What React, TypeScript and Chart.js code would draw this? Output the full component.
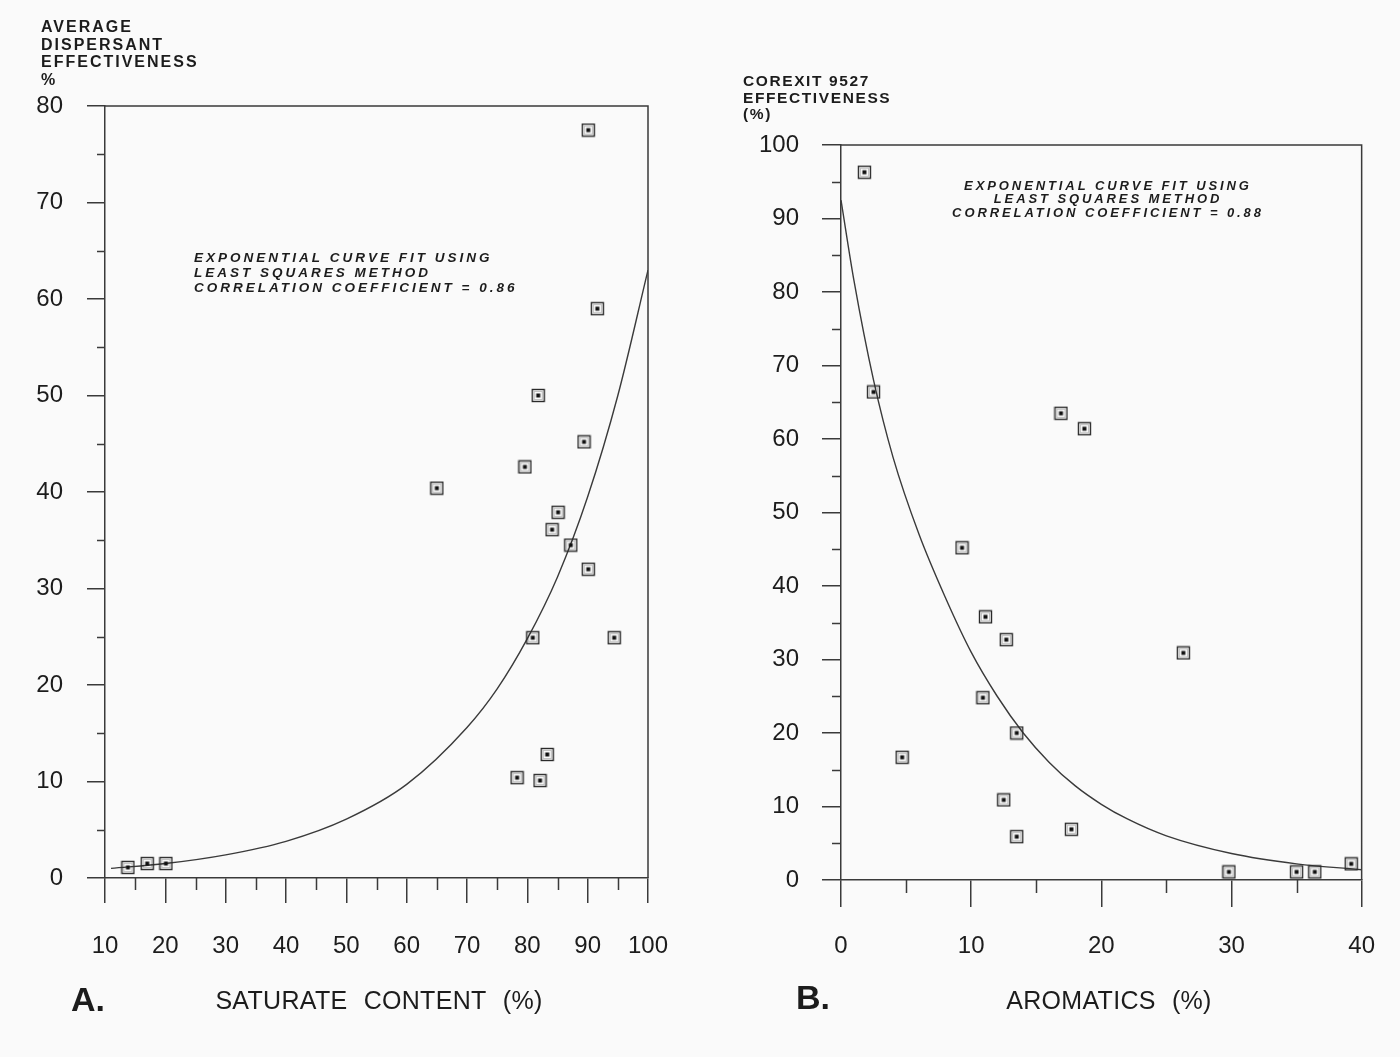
import { useEffect, useRef } from 'react';
import { Chart, registerables } from 'chart.js';

Chart.register(...registerables);

// ---- Panel A: saturate content vs. average dispersant effectiveness ----
const saturateContent = [90.1, 91.6, 81.8, 89.4, 79.6, 65.0, 85.1, 84.1, 87.2, 90.1, 80.9, 94.4, 83.3, 78.3, 82.1, 13.8, 17.0, 20.1];
const dispersantEffectiveness = [77.5, 59.0, 50.0, 45.2, 42.6, 40.4, 37.9, 36.1, 34.5, 32.0, 24.9, 24.9, 12.8, 10.4, 10.1, 1.1, 1.5, 1.5];
const saturateFitX = [11, 20, 30, 40, 50, 60, 70, 75, 80, 85, 90, 95, 100];
const saturateFitY = [1.0, 1.5, 2.4, 3.8, 6.1, 9.7, 15.6, 19.6, 24.8, 31.2, 39.5, 50.0, 63.0];
const saturateMinorX = [15, 25, 35, 45, 55, 65, 75, 85, 95];
const saturateMinorY = [5, 15, 25, 35, 45, 55, 65, 75];

// ---- Panel B: aromatics vs. Corexit 9527 effectiveness ----
const aromaticsContent = [1.8, 2.5, 9.3, 11.1, 12.7, 16.9, 18.7, 26.3, 10.9, 13.5, 4.7, 12.5, 13.5, 17.7, 29.8, 35.0, 36.4, 39.2];
const corexitEffectiveness = [96.3, 66.4, 45.2, 35.8, 32.7, 63.5, 61.4, 30.9, 24.8, 20.0, 16.7, 10.9, 5.9, 6.9, 1.1, 1.1, 1.1, 2.2];
const aromaticsFitX = [0, 1, 2.5, 4, 6, 8, 10, 12, 14, 16, 18, 20, 22, 25, 30, 35, 40];
const aromaticsFitY = [92.5, 81.5, 68, 57.5, 47, 38.5, 31, 25, 20, 16, 12.8, 10.3, 8.3, 6.0, 3.6, 2.2, 1.4];
const aromaticsMinorX = [5, 15, 25, 35];
const aromaticsMinorY = [5, 15, 25, 35, 45, 55, 65, 75, 85, 95];

const FONT = '"Liberation Sans", Arial, Helvetica, sans-serif';
const INK = '#1c1c1c';
const LINE = '#3a3a3a';

function makeMarker(): HTMLCanvasElement {
  const c = document.createElement('canvas');
  c.width = 15;
  c.height = 15;
  const g = c.getContext('2d')!;
  g.strokeStyle = '#2a2a2a';
  g.lineWidth = 1.4;
  g.strokeRect(1.5, 1.5, 12, 12);
  g.strokeStyle = 'rgba(0,0,0,0.22)';
  g.lineWidth = 1;
  g.strokeRect(3.5, 3.5, 8, 8);
  g.fillStyle = '#111';
  g.fillRect(5.5, 5.5, 4, 4);
  return c;
}

// Short minor ticks plus the top and right sides of the frame
const frameTicks = {
  id: 'frameTicks',
  afterDatasetsDraw(chart: any, _args: any, o: any) {
    const { ctx, chartArea } = chart;
    const xs = chart.scales.x;
    const ys = chart.scales.y;
    ctx.save();
    ctx.strokeStyle = LINE;
    ctx.lineWidth = 1.5;
    ctx.beginPath();
    for (const v of o.minorX) {
      const px = Math.round(xs.getPixelForValue(v)) + 0.5;
      ctx.moveTo(px, chartArea.bottom);
      ctx.lineTo(px, chartArea.bottom + o.minorXLen);
    }
    for (const v of o.minorY) {
      const py = Math.round(ys.getPixelForValue(v)) + 0.5;
      ctx.moveTo(chartArea.left, py);
      ctx.lineTo(chartArea.left - o.minorYLen, py);
    }
    ctx.moveTo(chartArea.left, chartArea.top);
    ctx.lineTo(chartArea.right, chartArea.top);
    ctx.lineTo(chartArea.right, chartArea.bottom);
    ctx.stroke();
    ctx.restore();
  },
};

// Axis captions, fit note and panel letter
const panelText = {
  id: 'panelText',
  afterDraw(chart: any, _args: any, o: any) {
    const { ctx } = chart;
    ctx.save();
    ctx.fillStyle = INK;
    ctx.textBaseline = 'middle';

    ctx.font = `bold ${o.capSize}px ${FONT}`;
    ctx.letterSpacing = `${o.capSpacing}px`;
    ctx.textAlign = 'left';
    o.caption.forEach((line: string, i: number) => ctx.fillText(line, o.capX, o.capY + i * o.capDy));

    ctx.font = `italic bold ${o.noteSize}px ${FONT}`;
    ctx.letterSpacing = `${o.noteSpacing}px`;
    ctx.textAlign = o.noteAlign;
    o.note.forEach((line: string, i: number) => ctx.fillText(line, o.noteX, o.noteY + i * o.noteDy));

    ctx.letterSpacing = '0.3px';
    ctx.wordSpacing = '9px';
    ctx.font = `25px ${FONT}`;
    ctx.textAlign = 'center';
    ctx.fillText(o.xTitle, o.xTitleX, o.xTitleY);

    ctx.wordSpacing = '0px';
    ctx.letterSpacing = '0px';
    ctx.font = `bold 34px ${FONT}`;
    ctx.textAlign = 'left';
    ctx.fillText(o.letter, o.letterX, o.letterY);
    ctx.restore();
  },
};

function buildConfig(p: any, marker: HTMLCanvasElement): any {
  const tickFont = { family: FONT, size: 24 };
  return {
    type: 'scatter',
    data: {
      datasets: [
        {
          type: 'line',
          data: p.fitX.map((x: number, i: number) => ({ x, y: p.fitY[i] })),
          borderColor: LINE,
          borderWidth: 1.4,
          pointRadius: 0,
          cubicInterpolationMode: 'monotone',
          fill: false,
          order: 2,
        },
        {
          data: p.xs.map((x: number, i: number) => ({ x, y: p.ys[i] })),
          pointStyle: marker,
          showLine: false,
          order: 1,
        },
      ],
    },
    options: {
      responsive: false,
      animation: false,
      devicePixelRatio: 1,
      layout: { padding: p.padding },
      plugins: {
        legend: { display: false },
        tooltip: { enabled: false },
        frameTicks: p.frame,
        panelText: p.text,
      },
      scales: {
        x: {
          type: 'linear',
          min: p.xMin,
          max: p.xMax,
          afterFit: (s: any) => { s.height = 100; },
          ticks: { stepSize: 10, autoSkip: false, maxRotation: 0, padding: p.xPad, font: tickFont, color: INK },
          grid: { drawOnChartArea: false, tickLength: p.xTick, color: LINE, lineWidth: 1.5 },
          border: { color: LINE, width: 1.5 },
        },
        y: {
          type: 'linear',
          min: p.yMin,
          max: p.yMax,
          afterFit: (s: any) => { s.width = 100; },
          ticks: { stepSize: 10, autoSkip: false, padding: p.yPad, font: tickFont, color: INK },
          grid: { drawOnChartArea: false, tickLength: p.yTick, color: LINE, lineWidth: 1.5 },
          border: { color: LINE, width: 1.5 },
        },
      },
    },
    plugins: [frameTicks, panelText],
  };
}

const panelA = {
  xs: saturateContent,
  ys: dispersantEffectiveness,
  fitX: saturateFitX,
  fitY: saturateFitY,
  xMin: 10, xMax: 100, yMin: 0, yMax: 80,
  padding: { left: 5, right: 52, top: 106, bottom: 79 },
  xTick: 25, xPad: 29, yTick: 18, yPad: 24,
  frame: { minorX: saturateMinorX, minorY: saturateMinorY, minorXLen: 12, minorYLen: 8 },
  text: {
    caption: ['AVERAGE', 'DISPERSANT', 'EFFECTIVENESS', '%'],
    capX: 41, capY: 28, capDy: 17.5, capSize: 16, capSpacing: 2,
    note: ['EXPONENTIAL CURVE FIT USING', 'LEAST SQUARES METHOD', 'CORRELATION COEFFICIENT = 0.86'],
    noteX: 194, noteY: 258, noteDy: 15, noteSize: 13.5, noteSpacing: 3, noteAlign: 'left',
    xTitle: 'SATURATE CONTENT (%)', xTitleX: 379, xTitleY: 1002,
    letter: 'A.', letterX: 71, letterY: 1002,
  },
};

const panelB = {
  xs: aromaticsContent,
  ys: corexitEffectiveness,
  fitX: aromaticsFitX,
  fitY: aromaticsFitY,
  xMin: 0, xMax: 40, yMin: 0, yMax: 100,
  padding: { left: 41, right: 36, top: 145, bottom: 77 },
  xTick: 27, xPad: 25, yTick: 19, yPad: 23,
  frame: { minorX: aromaticsMinorX, minorY: aromaticsMinorY, minorXLen: 13, minorYLen: 9 },
  text: {
    caption: ['COREXIT 9527', 'EFFECTIVENESS', '(%)'],
    capX: 43, capY: 82, capDy: 16.5, capSize: 15.5, capSpacing: 1.6,
    note: ['EXPONENTIAL CURVE FIT USING', 'LEAST SQUARES METHOD', 'CORRELATION COEFFICIENT = 0.88'],
    noteX: 408, noteY: 186, noteDy: 13.8, noteSize: 13, noteSpacing: 2.9, noteAlign: 'center',
    xTitle: 'AROMATICS (%)', xTitleX: 409, xTitleY: 1002,
    letter: 'B.', letterX: 96, letterY: 1000,
  },
};

export default function App() {
  const refA = useRef<HTMLCanvasElement>(null);
  const refB = useRef<HTMLCanvasElement>(null);

  useEffect(() => {
    const marker = makeMarker();
    const a = new Chart(refA.current!, buildConfig(panelA, marker));
    const b = new Chart(refB.current!, buildConfig(panelB, marker));
    return () => {
      a.destroy();
      b.destroy();
    };
  }, []);

  const canvasStyle = { position: 'absolute' as const, top: 0, width: 700, height: 1057 };
  return (
    <div style={{ position: 'fixed', left: 0, top: 0, width: 1400, height: 1057, background: '#fafafa', overflow: 'hidden' }}>
      <canvas ref={refA} width={700} height={1057} style={{ ...canvasStyle, left: 0 }} />
      <canvas ref={refB} width={700} height={1057} style={{ ...canvasStyle, left: 700 }} />
    </div>
  );
}
